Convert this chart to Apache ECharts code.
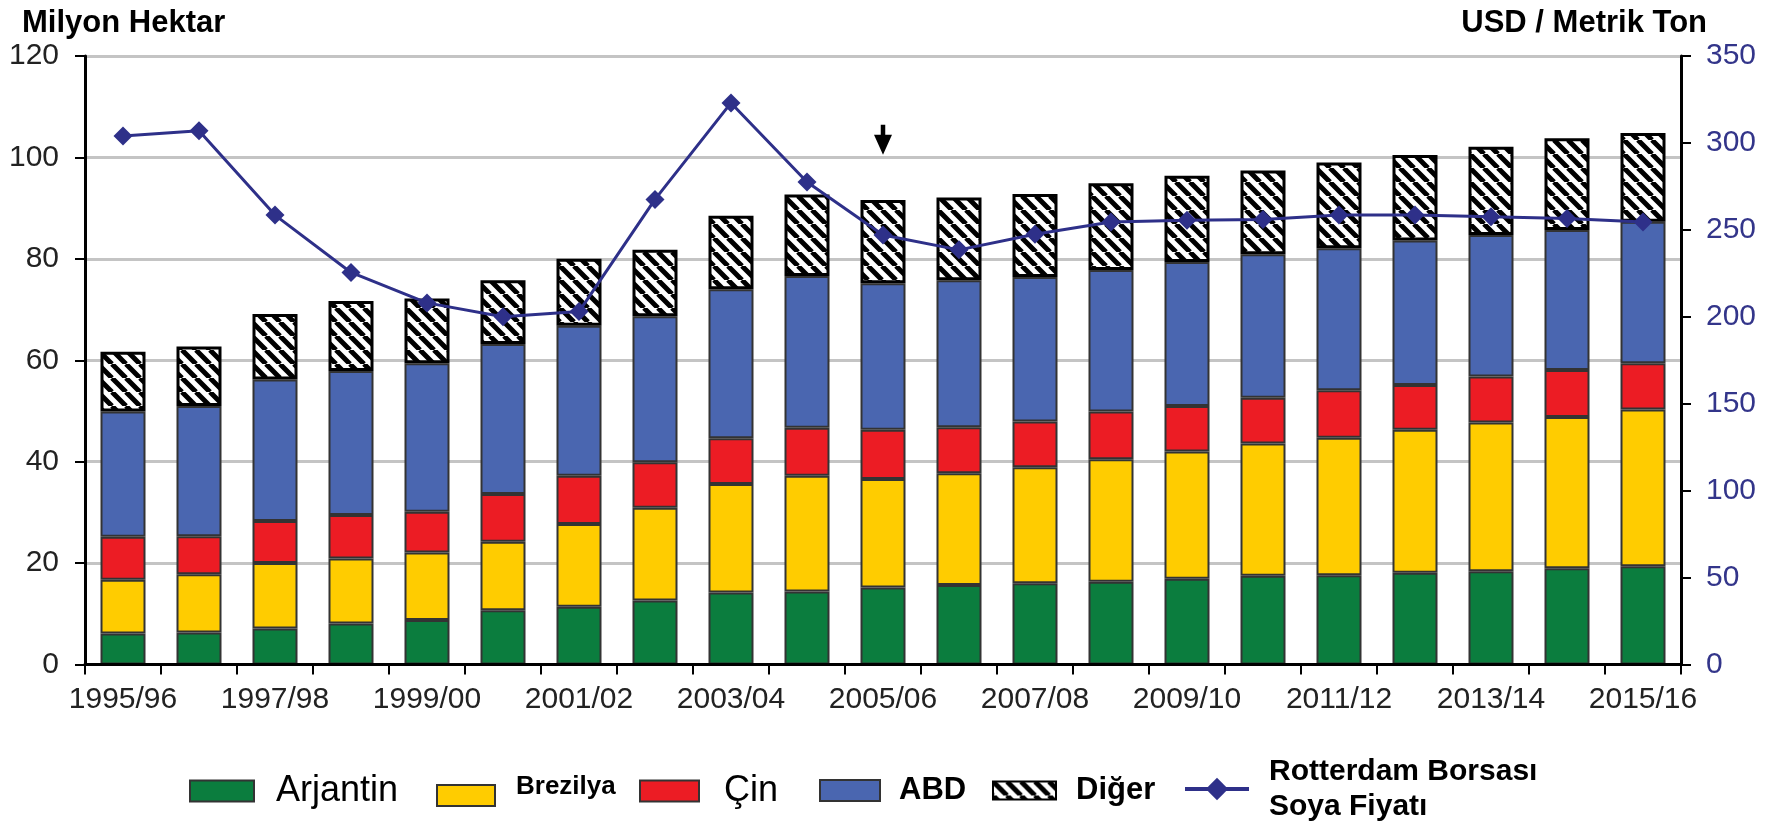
<!DOCTYPE html>
<html>
<head>
<meta charset="utf-8">
<title>Soya ekim alanları ve fiyat</title>
<script src="https://cdn.jsdelivr.net/npm/echarts@6/dist/echarts.min.js"></script>
<style>
  html, body { margin: 0; padding: 0; background: #fff; }
  #chart { width: 1771px; height: 829px; }
</style>
</head>
<body>
<div id="chart"></div>
<script>
// Sezonlar
const seasons = ['1995/96','1996/97','1997/98','1998/99','1999/00','2000/01','2001/02','2002/03','2003/04','2004/05',
  '2005/06','2006/07','2007/08','2008/09','2009/10','2010/11','2011/12','2012/13','2013/14','2014/15','2015/16'];

// Ekim alanı, milyon hektar
const arjantin = [6.1, 6.3, 7.1, 8.1, 8.8, 10.7, 11.4, 12.6, 14.2, 14.4, 15.2, 15.7, 16.0, 16.3, 16.9, 17.5, 17.6, 18.1, 18.4, 19.0, 19.4];
const brezilya = [10.6, 11.5, 12.9, 12.8, 13.3, 13.5, 16.3, 18.3, 21.4, 22.8, 21.4, 22.0, 22.9, 24.2, 25.1, 26.1, 27.1, 28.2, 29.3, 29.8, 30.9];
const cin      = [8.5, 7.5, 8.3, 8.6, 8.0, 9.4, 9.5, 9.0, 9.0, 9.5, 9.7, 9.1, 9.0, 9.4, 9.0, 9.0, 9.4, 8.8, 9.1, 9.3, 9.1];
const abd      = [24.7, 25.7, 27.9, 28.4, 29.3, 29.6, 29.6, 28.8, 29.4, 29.9, 28.9, 29.0, 28.5, 27.9, 28.4, 28.3, 28.0, 28.5, 27.9, 27.6, 27.9];
const diger    = [11.8, 11.7, 12.9, 13.8, 12.8, 12.6, 13.2, 13.1, 14.5, 16.1, 16.4, 16.3, 16.4, 17.1, 17.0, 16.5, 16.9, 16.9, 17.4, 18.1, 17.5];

// Rotterdam borsası soya fiyatı, USD / metrik ton
const fiyat = [304, 307, 258.5, 225.5, 208, 200, 203, 267.5, 323, 277.5, 247, 238.5, 247.5, 254.5, 255.5, 256, 258.5, 258.5, 257.5, 256.5, 254.5];

// Eksen ölçekleri
const leftAxis  = { min: 0, max: 120, interval: 20 };
const rightAxis = { min: 0, max: 350, interval: 50 };

// Ok işaretinin gösterdiği sezon ve yüksekliği (sol eksen)
const arrowSeason = '2005/06';
const arrowLevel = 103.5;

const FONT = 'Liberation Sans, Arial, sans-serif';

// Diğer için çapraz taralı dolgu
function hatchPattern() {
  const s = 14;
  const c = document.createElement('canvas');
  c.width = s; c.height = s;
  const g = c.getContext('2d');
  g.fillStyle = '#ffffff';
  g.fillRect(0, 0, s, s);
  g.strokeStyle = '#000000';
  g.lineWidth = 5;
  g.beginPath();
  [-s, 0, s].forEach(k => { g.moveTo(k, 0); g.lineTo(k + s, s); });
  g.stroke();
  return { image: c, repeat: 'repeat' };
}
const hatch = hatchPattern();

const colors = {
  arjantin: '#0b7d3e',
  brezilya: '#ffcc00',
  cin: '#ec1c24',
  abd: '#4a66b0',
  line: '#2e3089'
};

function barSeries(name, data, color, extra) {
  return Object.assign({
    name: name,
    type: 'bar',
    stack: 'alan',
    barWidth: 45,
    data: data,
    itemStyle: { color: color, borderColor: '#333333', borderWidth: 2 }
  }, extra || {});
}

function legendBox(name, left, top, itemWidth, itemHeight, text, more) {
  return Object.assign({
    data: [name],
    left: left,
    top: top,
    orient: 'horizontal',
    padding: 0,
    icon: 'rect',
    itemWidth: itemWidth,
    itemHeight: itemHeight,
    selectedMode: false,
    textStyle: Object.assign({ fontFamily: FONT, color: '#000' }, text)
  }, more || {});
}

const chart = echarts.init(document.getElementById('chart'), null, { renderer: 'canvas' });

chart.setOption({
  animation: false,
  backgroundColor: '#ffffff',
  textStyle: { fontFamily: FONT },
  title: [
    { text: 'Milyon Hektar', left: 17, top: 3, textStyle: { fontFamily: FONT, fontSize: 31, fontWeight: 'bold', color: '#000' } },
    { text: 'USD / Metrik Ton', right: 59, top: 3, textStyle: { fontFamily: FONT, fontSize: 31, fontWeight: 'bold', color: '#000' } }
  ],
  grid: { left: 85, right: 90, top: 56, bottom: 164.5, containLabel: false },
  xAxis: [
    {
      type: 'category',
      data: seasons,
      position: 'bottom',
      boundaryGap: true,
      axisLine: { lineStyle: { color: '#000', width: 3 } },
      axisTick: { show: true, interval: 0, length: 10, lineStyle: { color: '#000', width: 2 } },
      axisLabel: { interval: 1, fontSize: 30, color: '#222', margin: 20, fontFamily: FONT }
    },
    {
      type: 'category',
      data: seasons,
      position: 'top',
      z: 5,
      axisLine: { lineStyle: { color: '#000', width: 3 } },
      axisTick: { show: false },
      axisLabel: { show: false }
    }
  ],
  yAxis: [
    {
      type: 'value',
      min: leftAxis.min, max: leftAxis.max, interval: leftAxis.interval,
      position: 'left',
      axisLine: { show: true, lineStyle: { color: '#000', width: 3 } },
      axisTick: { show: true, length: 10, lineStyle: { color: '#000', width: 2 } },
      axisLabel: { fontSize: 30, color: '#222', margin: 26, fontFamily: FONT },
      splitLine: { show: true, lineStyle: { color: '#c4c4c4', width: 3 } }
    },
    {
      type: 'value',
      min: rightAxis.min, max: rightAxis.max, interval: rightAxis.interval,
      position: 'right',
      axisLine: { show: true, lineStyle: { color: '#000', width: 3 } },
      axisTick: { show: true, length: 10, lineStyle: { color: '#000', width: 2 } },
      axisLabel: { fontSize: 30, color: '#33358a', margin: 25, fontFamily: FONT },
      splitLine: { show: false }
    }
  ],
  legend: [
    legendBox('Arjantin', 189, 773, 64, 21, { fontSize: 36, padding: [0, 0, 0, 17] }),
    legendBox('Brezilya', 436, 774, 58, 21, { fontSize: 26, fontWeight: 'bold', lineHeight: 17, padding: [0, 0, 0, 16] },
      { formatter: (n) => n + '\n ' }),
    legendBox('Çin', 639, 773, 59, 21, { fontSize: 36, padding: [0, 0, 0, 20] }),
    legendBox('ABD', 819, 775, 60, 21, { fontSize: 31, fontWeight: 'bold', padding: [0, 0, 0, 14] }),
    legendBox('Diğer', 992, 775, 63, 18, { fontSize: 31, fontWeight: 'bold', padding: [0, 0, 0, 15] }),
    legendBox('Rotterdam Borsası Soya Fiyatı', 1183, 754, 64, 28,
      { fontSize: 30, fontWeight: 'bold', lineHeight: 35, padding: [0, 0, 0, 15] },
      {
        icon: null,
        lineStyle: { width: 4 },
        formatter: () => 'Rotterdam Borsası\nSoya Fiyatı'
      })
  ],
  series: [
    barSeries('Arjantin', arjantin, colors.arjantin, {
      markPoint: {
        silent: true,
        label: { show: false },
        data: [{
          coord: [arrowSeason, arrowLevel],
          symbol: 'path://M7.5,0 L12.5,0 L12.5,10 L20,10 L10,30 L0,10 L7.5,10 Z',
          symbolSize: [18, 30],
          itemStyle: { color: '#000' }
        }]
      }
    }),
    barSeries('Brezilya', brezilya, colors.brezilya),
    barSeries('Çin', cin, colors.cin),
    barSeries('ABD', abd, colors.abd),
    barSeries('Diğer', diger, hatch, { itemStyle: { color: hatch, borderColor: '#000', borderWidth: 3 } }),
    {
      name: 'Rotterdam Borsası Soya Fiyatı',
      type: 'line',
      yAxisIndex: 1,
      data: fiyat,
      z: 10,
      color: colors.line,
      symbol: 'diamond',
      symbolSize: 19,
      lineStyle: { color: colors.line, width: 3 },
      itemStyle: { color: colors.line }
    }
  ]
});
</script>
</body>
</html>
